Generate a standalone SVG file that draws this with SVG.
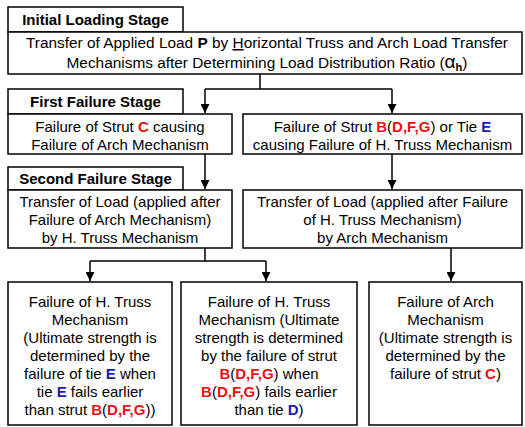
<svg xmlns="http://www.w3.org/2000/svg" width="525" height="427" viewBox="0 0 525 427">
<defs>
<style>
.box{fill:#fff;stroke:#000;stroke-width:1.5}
.t{font-family:"Liberation Sans",Arial,sans-serif;font-size:15px;fill:#000;text-anchor:middle}
.big{font-size:15.4px}
.h{font-weight:bold}
.r{fill:#ee1111;font-weight:bold}
.b{fill:#1a1ab4;font-weight:bold}
.c{stroke:#000;stroke-width:1.5;fill:none}
</style>
<marker id="ah" viewBox="0 0 10 10" refX="10" refY="5" markerWidth="9" markerHeight="9" markerUnits="userSpaceOnUse" orient="auto">
<path d="M0,0 L10,5 L0,10 z" fill="#000"/>
</marker>
</defs>
<rect width="525" height="427" fill="#fff"/>
<g id="connectors">
<path class="c" d="M260,74 V89 M205,89 H392"/>
<path class="c" d="M205,89 V113" marker-end="url(#ah)"/>
<path class="c" d="M392,89 V113" marker-end="url(#ah)"/>
<path class="c" d="M205,154 V189" marker-end="url(#ah)"/>
<path class="c" d="M392,154 V189" marker-end="url(#ah)"/>
<path class="c" d="M205,248 V261 M90,261 H266"/>
<path class="c" d="M90,261 V281" marker-end="url(#ah)"/>
<path class="c" d="M266,261 V281" marker-end="url(#ah)"/>
<path class="c" d="M451,248 V281" marker-end="url(#ah)"/>
</g>
<g id="stage1">
<rect class="box" x="8" y="7" width="175" height="25"/>
<text class="t h" x="95.5" y="25">Initial Loading Stage</text>
</g>
<g id="initial">
<rect class="box" x="8" y="32" width="514" height="42"/>
<text class="t big" x="267" y="48">Transfer of Applied Load <tspan class="h">P</tspan> by <tspan text-decoration="underline">H</tspan>orizontal Truss and Arch Load Transfer</text>
<text class="t big" x="267" y="68">Mechanisms after Determining Load Distribution Ratio (<tspan font-size="19">α</tspan><tspan class="h" font-size="11" dy="3">h</tspan><tspan dy="-3">)</tspan></text>
</g>
<g id="stage2">
<rect class="box" x="8" y="89" width="175" height="25"/>
<text class="t h" x="95.5" y="107">First Failure Stage</text>
</g>
<g id="fail-c">
<rect class="box" x="8" y="114" width="224" height="40"/>
<text class="t" x="120" y="132">Failure of Strut <tspan class="r">C</tspan> causing</text>
<text class="t" x="120" y="150">Failure of Arch Mechanism</text>
</g>
<g id="fail-b">
<rect class="box" x="243" y="114" width="279" height="40"/>
<text class="t" x="382.5" y="132">Failure of Strut <tspan class="r">B</tspan>(<tspan class="r">D,F,G</tspan>) or Tie <tspan class="b">E</tspan></text>
<text class="t" x="382.5" y="150">causing Failure of H. Truss Mechanism</text>
</g>
<g id="stage3">
<rect class="box" x="8" y="167" width="175" height="23"/>
<text class="t h" x="95.5" y="184">Second Failure Stage</text>
</g>
<g id="transfer-truss">
<rect class="box" x="8" y="190" width="224" height="58"/>
<text class="t" x="120" y="207">Transfer of Load (applied after</text>
<text class="t" x="120" y="225">Failure of Arch Mechanism)</text>
<text class="t" x="120" y="243">by H. Truss Mechanism</text>
</g>
<g id="transfer-arch">
<rect class="box" x="243" y="190" width="279" height="58"/>
<text class="t" x="382.5" y="207">Transfer of Load (applied after Failure</text>
<text class="t" x="382.5" y="225">of H. Truss Mechanism)</text>
<text class="t" x="382.5" y="243">by Arch Mechanism</text>
</g>
<g id="result-tie">
<rect class="box" x="8" y="282" width="164" height="143"/>
<text class="t" x="90" y="307">Failure of H. Truss</text>
<text class="t" x="90" y="325">Mechanism</text>
<text class="t" x="90" y="343">(Ultimate strength is</text>
<text class="t" x="90" y="361">determined by the</text>
<text class="t" x="90" y="379">failure of tie <tspan class="b">E</tspan> when</text>
<text class="t" x="90" y="397">tie <tspan class="b">E</tspan> fails earlier</text>
<text class="t" x="90" y="415">than strut <tspan class="r">B</tspan>(<tspan class="r">D,F,G</tspan>))</text>
</g>
<g id="result-strut">
<rect class="box" x="181" y="282" width="176" height="143"/>
<text class="t" x="269" y="307">Failure of H. Truss</text>
<text class="t" x="269" y="325">Mechanism (Ultimate</text>
<text class="t" x="269" y="343">strength is determined</text>
<text class="t" x="269" y="361">by the failure of strut</text>
<text class="t" x="269" y="379"><tspan class="r">B</tspan>(<tspan class="r">D,F,G</tspan>) when</text>
<text class="t" x="269" y="397"><tspan class="r">B</tspan>(<tspan class="r">D,F,G</tspan>) fails earlier</text>
<text class="t" x="269" y="415">than tie <tspan class="b">D</tspan>)</text>
</g>
<g id="result-arch">
<rect class="box" x="369" y="282" width="153" height="143"/>
<text class="t" x="445.5" y="307">Failure of Arch</text>
<text class="t" x="445.5" y="325">Mechanism</text>
<text class="t" x="445.5" y="343">(Ultimate strength is</text>
<text class="t" x="445.5" y="361">determined by the</text>
<text class="t" x="445.5" y="379">failure of strut <tspan class="r">C</tspan>)</text>
</g>
</svg>
